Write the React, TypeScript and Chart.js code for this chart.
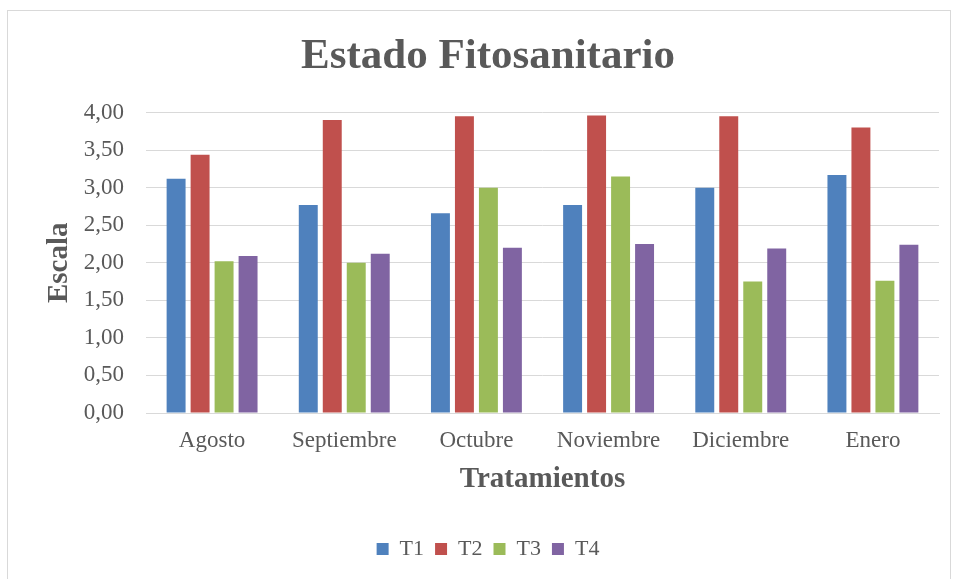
import React, { useEffect, useRef } from "react";
import { Chart, registerables } from "chart.js";

Chart.register(...registerables);

const categories = ["Agosto", "Septiembre", "Octubre", "Noviembre", "Diciembre", "Enero"];
const seriesNames = ["T1", "T2", "T3", "T4"];
const t1 = [3.12, 2.77, 2.66, 2.77, 3.0, 3.17];
const t2 = [3.44, 3.9, 3.95, 3.96, 3.95, 3.8];
const t3 = [2.02, 2.0, 3.0, 3.15, 1.75, 1.76];
const t4 = [2.09, 2.12, 2.2, 2.25, 2.19, 2.24];
const colors = ["#4f81bd", "#c0504d", "#9bbb59", "#8064a2"];
const chartTitle = "Estado Fitosanitario";
const xTitle = "Tratamientos";
const yTitle = "Escala";

const FONT = "'Liberation Serif', 'Times New Roman', serif";
const TEXT = "#595959";

const borderPlugin = {
  id: "outerBorder",
  beforeDraw(chart: any) {
    const ctx = chart.ctx;
    ctx.save();
    ctx.fillStyle = "#ffffff";
    ctx.fillRect(0, 0, chart.width, chart.height);
    ctx.strokeStyle = "#d9d9d9";
    ctx.lineWidth = 1;
    ctx.strokeRect(7.5, 10.5, 943, 620);
    ctx.restore();
  },
};

export default function App() {
  const ref = useRef<HTMLCanvasElement | null>(null);
  useEffect(() => {
    if (!ref.current) return;
    const data = [t1, t2, t3, t4];
    const chart = new Chart(ref.current, {
      type: "bar",
      data: {
        labels: categories,
        datasets: seriesNames.map((n, i) => ({
          label: n,
          data: data[i],
          backgroundColor: colors[i],
          borderWidth: 0,
          categoryPercentage: 0.726,
          barPercentage: 0.79,
        })),
      },
      options: {
        responsive: false,
        animation: false,
        layout: { padding: { left: 37, right: 15, top: 0, bottom: 9 } },
        plugins: {
          title: {
            display: true,
            text: chartTitle,
            color: TEXT,
            font: { family: FONT, size: 43, weight: "bold", lineHeight: 1.2 },
            padding: { top: 31, bottom: 30 },
          },
          legend: {
            position: "bottom",
            labels: {
              color: TEXT,
              font: { family: FONT, size: 22 },
              boxWidth: 12,
              boxHeight: 12,
              padding: 11,
            },
          },
          tooltip: { enabled: false },
        },
        scales: {
          x: {
            grid: { display: false, drawTicks: false },
            border: { display: true, color: "#d9d9d9" },
            ticks: { color: TEXT, font: { family: FONT, size: 23 }, padding: 14, maxRotation: 0 },
            title: {
              display: true,
              text: xTitle,
              color: TEXT,
              font: { family: FONT, size: 29, weight: "bold", lineHeight: 1.2 },
              padding: { top: 0, bottom: 30 },
            },
            afterFit(scale: any) {
              scale.height = 114;
            },
          },
          y: {
            min: 0,
            max: 4,
            ticks: {
              stepSize: 0.5,
              color: TEXT,
              font: { family: FONT, size: 23 },
              padding: 22,
              callback: (v: any) => Number(v).toFixed(2).replace(".", ","),
            },
            grid: { color: "#d9d9d9", lineWidth: 1, drawTicks: false },
            border: { display: false },
            title: {
              display: true,
              text: yTitle,
              color: TEXT,
              font: { family: FONT, size: 29, weight: "bold", lineHeight: 1.2 },
              padding: { top: 5, bottom: 0 },
            },
            afterFit(scale: any) {
              scale.width = 109;
            },
          },
        },
      },
      plugins: [borderPlugin],
    });
    return () => chart.destroy();
  }, []);
  return (
    <div style={{ position: "fixed", left: 0, top: 0, width: 954, height: 579, background: "#fff" }}>
      <canvas ref={ref} width={954} height={579} style={{ display: "block" }} />
    </div>
  );
}
